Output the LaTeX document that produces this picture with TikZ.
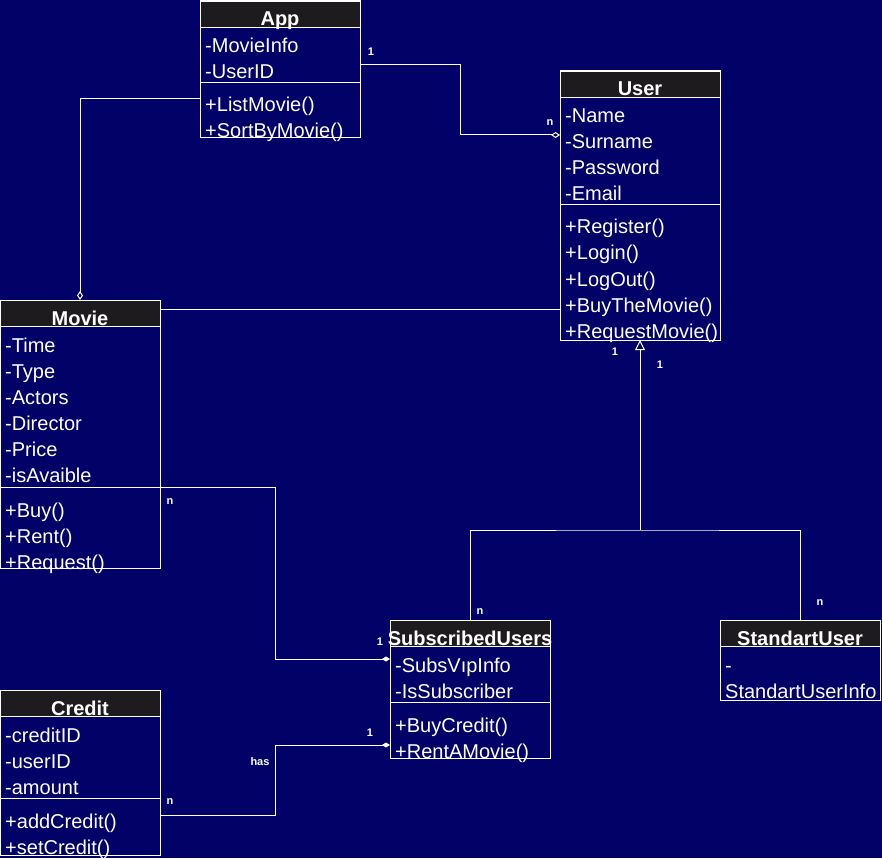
\documentclass[tikz,border=0pt]{standalone}
\usepackage{fontspec}
\setmainfont{Liberation Sans}
\usetikzlibrary{arrows.meta}
\definecolor{bgblue}{HTML}{010167}
\definecolor{headfill}{HTML}{1E1B1F}
\begin{document}
\begin{tikzpicture}[x=1pt,y=-1pt,
    classbox/.style={draw=white,line width=1pt,anchor=north west,minimum width=160pt,inner sep=0pt,outer sep=0pt},
    classtitle/.style={anchor=base,inner sep=0pt,text=white,font=\fontsize{20}{24}\selectfont\bfseries},
    member/.style={anchor=base west,inner sep=0pt,text=white,font=\fontsize{20}{24}\selectfont},
    conn/.style={draw=white,line width=1pt},
    mult/.style={text=white,inner sep=0pt,font=\fontsize{11}{13}\selectfont\bfseries}]
            \path[use as bounding box,fill=bgblue] (0,0) rectangle (882,858);
            % App
            \node[classbox,minimum height=137pt] (app) at (200,1) {};
            \fill[headfill] (app.north west) rectangle ([yshift=-26pt]app.north east);
            \draw[white] (app.north west) rectangle ([yshift=-26pt]app.north east);
            \draw[white] ([yshift=-81pt]app.north west) -- ([yshift=-81pt]app.north east);
            \node[classtitle] (appT) at ([yshift=-25pt]app.north) {App};
            \foreach \t [count=\i] in {-MovieInfo,-UserID}
                \node[member] (appA\i) at ([xshift=5pt,yshift={-26pt-26pt*\i}]app.north west) {\t};
            \foreach \t [count=\i] in {+ListMovie(),+SortByMovie()}
                \node[member] (appM\i) at ([xshift=5pt,yshift={-85pt-26pt*\i}]app.north west) {\t};
            % User
            \node[classbox,minimum height=269pt] (user) at (560,71) {};
            \fill[headfill] (user.north west) rectangle ([yshift=-26pt]user.north east);
            \draw[white] (user.north west) rectangle ([yshift=-26pt]user.north east);
            \draw[white] ([yshift=-133pt]user.north west) -- ([yshift=-133pt]user.north east);
            \node[classtitle] (userT) at ([yshift=-25pt]user.north) {User};
            \foreach \t [count=\i] in {-Name,-Surname,-Password,-Email}
                \node[member] (userA\i) at ([xshift=5pt,yshift={-26pt-26pt*\i}]user.north west) {\t};
            \foreach \t [count=\i] in {+Register(),+Login(),+LogOut(),+BuyTheMovie(),+RequestMovie()}
                \node[member] (userM\i) at ([xshift=5pt,yshift={-137pt-26pt*\i}]user.north west) {\t};
            % Movie
            \node[classbox,minimum height=268pt] (movie) at (0,300) {};
            \fill[headfill] (movie.north west) rectangle ([yshift=-26pt]movie.north east);
            \draw[white] (movie.north west) rectangle ([yshift=-26pt]movie.north east);
            \draw[white] ([yshift=-187pt]movie.north west) -- ([yshift=-187pt]movie.north east);
            \node[classtitle] (movieT) at ([yshift=-25pt]movie.north) {Movie};
            \foreach \t [count=\i] in {-Time,-Type,-Actors,-Director,-Price,-isAvaible}
                \node[member] (movieA\i) at ([xshift=5pt,yshift={-26pt-26pt*\i}]movie.north west) {\t};
            \foreach \t [count=\i] in {+Buy(),+Rent(),+Request()}
                \node[member] (movieM\i) at ([xshift=5pt,yshift={-191pt-26pt*\i}]movie.north west) {\t};
            % SubscribedUsers
            \node[classbox,minimum height=138pt] (sub) at (390,620) {};
            \fill[headfill] (sub.north west) rectangle ([yshift=-26pt]sub.north east);
            \draw[white] (sub.north west) rectangle ([yshift=-26pt]sub.north east);
            \draw[white] ([yshift=-82pt]sub.north west) -- ([yshift=-82pt]sub.north east);
            \node[classtitle] (subT) at ([yshift=-25pt]sub.north) {SubscribedUsers};
            \foreach \t [count=\i] in {-SubsVıpInfo,-IsSubscriber}
                \node[member] (subA\i) at ([xshift=5pt,yshift={-26pt-26pt*\i}]sub.north west) {\t};
            \foreach \t [count=\i] in {+BuyCredit(),+RentAMovie()}
                \node[member] (subM\i) at ([xshift=5pt,yshift={-86pt-26pt*\i}]sub.north west) {\t};
            % StandartUser
            \node[classbox,minimum height=80pt] (std) at (720,620) {};
            \fill[headfill] (std.north west) rectangle ([yshift=-26pt]std.north east);
            \draw[white] (std.north west) rectangle ([yshift=-26pt]std.north east);
            \node[classtitle] (stdT) at ([yshift=-25pt]std.north) {StandartUser};
            \foreach \t [count=\i] in {-,StandartUserInfo}
                \node[member] (stdA\i) at ([xshift=5pt,yshift={-26pt-26pt*\i}]std.north west) {\t};
            % Credit
            \node[classbox,minimum height=165pt] (credit) at (0,690) {};
            \fill[headfill] (credit.north west) rectangle ([yshift=-26pt]credit.north east);
            \draw[white] (credit.north west) rectangle ([yshift=-26pt]credit.north east);
            \draw[white] ([yshift=-108pt]credit.north west) -- ([yshift=-108pt]credit.north east);
            \node[classtitle] (creditT) at ([yshift=-25pt]credit.north) {Credit};
            \foreach \t [count=\i] in {-creditID,-userID,-amount}
                \node[member] (creditA\i) at ([xshift=5pt,yshift={-26pt-26pt*\i}]credit.north west) {\t};
            \foreach \t [count=\i] in {+addCredit(),+setCredit()}
                \node[member] (creditM\i) at ([xshift=5pt,yshift={-112pt-26pt*\i}]credit.north west) {\t};
            % connectors
            \draw[conn,-{Diamond[open,length=9pt,width=6pt]}] ([yshift=-64pt]app.north east) -- ++(100,0) |- ([yshift=-64pt]user.north west);
            \draw[conn,-{Diamond[open,length=9pt,width=6pt]}] ([yshift=-98pt]app.north west) -| (movie.north);
            \draw[conn] ([yshift=-9pt]movie.north east) -- ([yshift=-9pt]movie.north east -| user.west);
            \coordinate (split) at (640,530);
            \draw[conn,-{Triangle[open,length=10pt,width=10pt]}] (split) -- (user.south);
            \draw[conn] (sub.north) |- (split) -| (std.north);
            \draw[conn,-{Diamond[length=8pt,width=5pt]}] ([yshift=-187pt]movie.north east) -- ++(115,0) |- ([yshift=-39pt]sub.north west);
            \draw[conn,-{Diamond[length=8pt,width=5pt]}] ([yshift=-125pt]credit.north east) -- ++(115,0) |- ([yshift=-125pt]sub.north west);
            % labels
            \node[mult] (l1) at (371,52) {1};
            \node[mult] (l2) at (550,123) {n};
            \node[mult] (l3) at (615,352) {1};
            \node[mult] (l4) at (660,365) {1};
            \node[mult] (l5) at (480,612) {n};
            \node[mult] (l6) at (820,603) {n};
            \node[mult] (l7) at (170,502) {n};
            \node[mult] (l8) at (380,642) {1};
            \node[mult] (l9) at (170,802) {n};
            \node[mult] (l10) at (260,762) {has};
            \node[mult] (l11) at (370,733) {1};
        \end{tikzpicture}
\end{document}
